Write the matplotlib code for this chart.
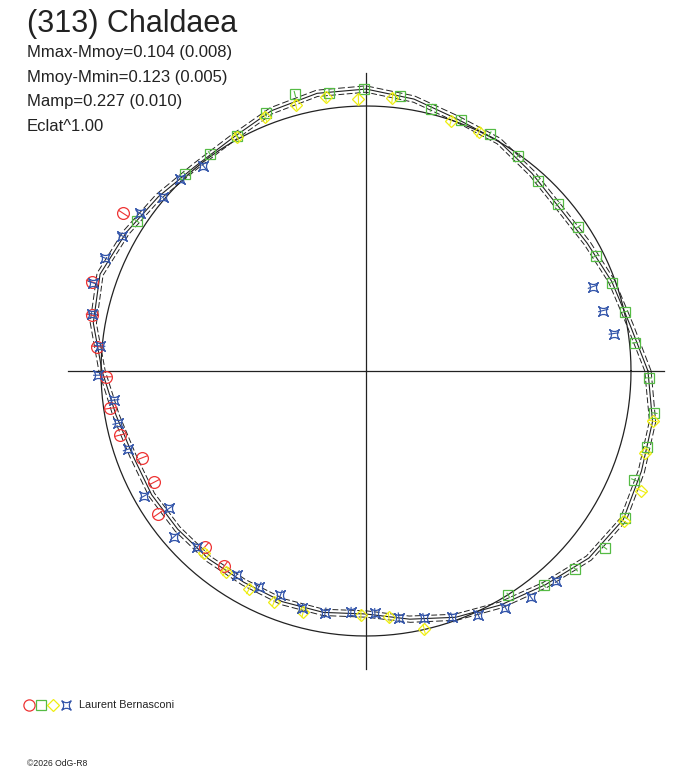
import numpy as np
import matplotlib
matplotlib.use("Agg")
import matplotlib.pyplot as plt
from matplotlib.path import Path
from matplotlib.lines import Line2D

plt.rcParams['font.family'] = ['Liberation Sans', 'DejaVu Sans']

# ─── Texts ────────────────────────────────────────────────────────────────────

title = "(313) Chaldaea"
stats_lines = ["Mmax-Mmoy=0.104 (0.008)",
               "Mmoy-Mmin=0.123 (0.005)",
               "Mamp=0.227 (0.010)",
               "Eclat^1.00"]
observer = "Laurent Bernasconi"
footer = "©2026 OdG-R8"

# ─── Model curve (radius relative to the reference circle), every 10 deg ─────

model_phase = [0, 10, 20, 30, 40, 50, 60, 70, 80, 90, 100, 110,
               120, 130, 140, 150, 160, 170, 180, 190, 200, 210, 220, 230,
               240, 250, 260, 270, 280, 290, 300, 310, 320, 330, 340, 350]
model_radius = [1.064, 1.011, 0.987, 0.964, 0.955, 0.974, 1.002, 1.011, 1.042, 1.064, 1.064, 1.045,
                1.013, 1.006, 1.023, 1.045, 1.068, 1.045, 0.996, 0.958, 0.936, 0.934, 0.928, 0.925,
                0.921, 0.926, 0.925, 0.917, 0.951, 0.989, 1.019, 1.053, 1.098, 1.121, 1.106, 1.098]
model_band = 0.012

# ─── Sessions (phase in deg, radius) ─────────────────────────────────────────

red_phase = [147.0, 162.0, 168.5, 174.8, 181.3, 188.3, 194.6, 201.2, 207.7, 214.5, 227.5, 234.0]
red_radius = [1.092, 1.089, 1.057, 1.020, 0.981, 0.976, 0.959, 0.905, 0.903, 0.954, 0.899, 0.909]

green_phase = [104.4, 111.3, 118.7, 125.7, 132.6, 146.8, 97.5, 90.5, 83.0, 76.1, 69.3, 62.4,
               54.8, 47.9, 41.0, 34.2, 26.6, 19.8, 12.9, 6.0, 358.6, 351.7, 344.8, 337.9,
               330.5, 323.5, 316.6, 309.7, 302.4]
green_radius = [1.079, 1.043, 1.011, 1.009, 1.009, 1.034, 1.059, 1.064, 1.047, 1.020, 1.011, 1.008,
                0.994, 0.967, 0.960, 0.969, 0.971, 0.985, 1.003, 1.021, 1.067, 1.100, 1.098, 1.092,
                1.123, 1.120, 1.088, 1.050, 1.003]

yellow_phase = [111.7, 104.8, 98.4, 91.6, 84.5, 71.2, 64.7, 118.9, 350.1, 343.6,
                336.5, 329.8, 255.4, 268.8, 275.3, 282.7, 228.4, 235.0, 241.8, 248.3]
yellow_radius = [1.032, 1.038, 1.046, 1.027, 1.036, 0.997, 0.996, 1.010, 1.098, 1.098,
                 1.132, 1.126, 0.941, 0.921, 0.934, 0.999, 0.920, 0.924, 0.935, 0.937]

blue_phase = [128.4, 134.1, 139.5, 145.1, 151.0, 156.6, 162.1, 168.2, 174.6, 180.9,
              186.6, 191.9, 198.2, 209.4, 214.9, 220.8, 226.2, 237.6, 243.6, 249.1,
              254.8, 260.4, 266.4, 272.1, 277.6, 283.2, 289.3, 294.7, 300.5, 306.1,
              312.1, 20.4, 14.3, 8.6]
blue_radius = [0.988, 1.009, 1.009, 1.040, 1.053, 1.073, 1.084, 1.055, 1.008, 1.010,
               0.957, 0.958, 0.946, 0.960, 0.906, 0.956, 0.919, 0.911, 0.909, 0.905,
               0.928, 0.925, 0.912, 0.915, 0.939, 0.958, 0.985, 1.014, 1.037, 1.054,
               1.067, 0.913, 0.924, 0.946]

# ─── Styles ───────────────────────────────────────────────────────────────────

RED, GREEN, YELLOW, BLUE = "#ee3333", "#55bb44", "#eeee11", "#3355aa"
INK = "#222222"

# 4-pointed star with concave sides (tips on the diagonals)
star = Path([(1, 1), (0, 0.2), (-1, 1), (-0.2, 0), (-1, -1), (0, -0.2), (1, -1), (0.2, 0), (1, 1), (1, 1)],
            [Path.MOVETO] + [Path.CURVE3] * 8 + [Path.CLOSEPOLY])

sessions = [
    (red_phase, red_radius, RED, "o", 8.5, 0.022),
    (green_phase, green_radius, GREEN, "s", 7.2, 0.012),
    (yellow_phase, yellow_radius, YELLOW, "D", 6.4, 0.02),
    (blue_phase, blue_radius, BLUE, star, 7.0, 0.02),
]

# ─── Figure ───────────────────────────────────────────────────────────────────

W, H = 688, 768
cx, cy, unit = 366, 371, 265          # pixel centre and reference radius
rmax = 1.2

fig = plt.figure(figsize=(W / 100, H / 100), dpi=100)
half = rmax * unit
ax = fig.add_axes([(cx - half) / W, (H - cy - half) / H, 2 * half / W, 2 * half / H],
                  projection="polar")
ax.set_ylim(0, rmax)
ax.set_xticks([])
ax.set_yticks([])
ax.grid(False)
ax.spines["polar"].set_visible(False)
ax.patch.set_alpha(0)

# cross
for a in (0, 90, 180, 270):
    ax.plot([np.deg2rad(a)] * 2, [0, 1.125], color=INK, lw=0.9)

# reference circle
ring = np.linspace(0, 2 * np.pi, 361)
ax.plot(ring, np.ones_like(ring), color=INK, lw=0.9)

# model and its envelope
th = np.deg2rad(model_phase + model_phase[:1])
rr = np.array(model_radius + model_radius[:1])
ax.plot(th, rr, color=INK, lw=0.8)
ax.plot(th, rr + model_band, color=INK, lw=0.7, dashes=(7, 3))
ax.plot(th, rr - model_band, color=INK, lw=0.7, dashes=(6, 2.5))

for ph, rad, col, mk, ms, err in sessions:
    ax.errorbar(np.deg2rad(ph), rad, yerr=err, fmt="none", ecolor=col,
                elinewidth=0.8, capsize=0, clip_on=False, zorder=3)
    ax.plot(np.deg2rad(ph), rad, ls="none", marker=mk, ms=ms, mfc="none",
            mec=col, mew=0.9, clip_on=False, zorder=4)

# ─── Texts ────────────────────────────────────────────────────────────────────

fig.text(27 / W, 1 - 32 / H, title, fontsize=22, color=INK, va="baseline")
for i, line in enumerate(stats_lines):
    fig.text(27 / W, 1 - (57 + 24.7 * i) / H, line, fontsize=12, color=INK, va="baseline")

# legend row
legend_x = [29, 41, 53, 66]
for x, (ph, rad, col, mk, ms, err) in zip(legend_x, sessions):
    fig.add_artist(Line2D([x / W], [1 - 705 / H], transform=fig.transFigure,
                          marker=mk, ms=ms * 0.95, mfc="none", mec=col, mew=0.9, ls="none"))
fig.text(79 / W, 1 - 708.5 / H, observer, fontsize=7.8, color=INK, va="baseline")
fig.text(27 / W, 1 - 766 / H, footer, fontsize=6.2, color=INK, va="baseline")

plt.savefig("out.png", dpi=100)
